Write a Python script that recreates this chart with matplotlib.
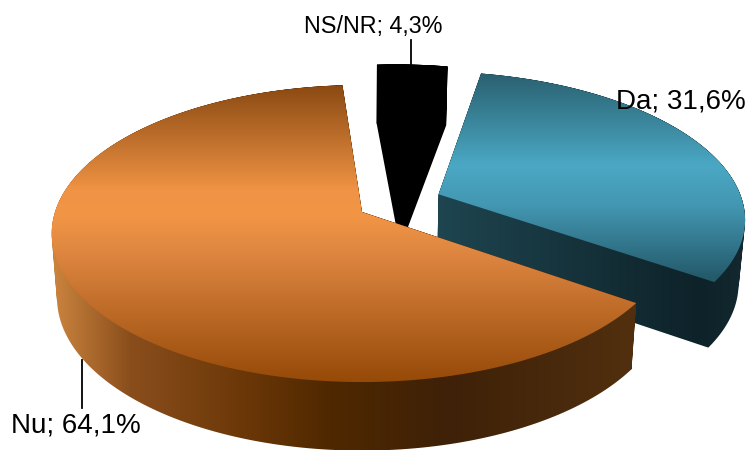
import numpy as np
import matplotlib
matplotlib.use("Agg")
import matplotlib.pyplot as plt
from matplotlib.colors import to_rgb
from matplotlib.patches import PathPatch
from matplotlib.path import Path

plt.rcParams['font.family'] = ['Liberation Sans', 'DejaVu Sans']

names = ["Da", "Nu", "NS/NR"]
values = [31.6, 64.1, 4.3]

# slice offsets from the pie centre, in disk units
offsets = [(0.254, 0.124), (0.0, 0.0), (0.13, 0.19)]
start_angle = 78.7

# projection of the disk on the page
cx, cy = 362, 212
rx, ry = 307, 145.4
persp = 0.145

top_stops = [
    [(73, "#2a6070"), (165, "#4aa8c4"), (205, "#4397b2"), (278, "#245a6a")],
    [(85, "#8a4a12"), (190, "#f09344"), (215, "#f29545"), (255, "#dd8540"), (382, "#964a08")],
    [(0, "#000000"), (450, "#000000")],
]
side_stops = [
    [(438, "#1e4550"), (700, "#0e2229"), (745, "#13282f")],
    [(52, "#cc853f"), (130, "#8a4e1c"), (240, "#6d3808"), (330, "#4f2800"),
     (450, "#3e2108"), (640, "#52300f")],
    [(0, "#000000"), (750, "#000000")],
]


def project(u, v):
    s = 1 / (1 + persp * v)
    return cx + rx * u * s, cy - ry * v * s


def drop(x, y):
    # bottom of the wall, a bit narrower and further down toward the viewer
    return cx + (x - cx) * 0.983, y + 59 + (y - 64) * 0.03


def ramp(stops):
    pos = [p for p, c in stops]
    cols = np.array([to_rgb(c) for p, c in stops])
    grid = np.linspace(0, 750, 901)
    return np.stack([np.interp(grid, pos, cols[:, i]) for i in range(3)], axis=-1)


def clip_fill(ax, path, stops, vertical):
    band = ramp(stops)
    if vertical:
        img = ax.imshow(band[:, None, :], extent=(0, 750, 750, 0), aspect='auto', interpolation='bilinear')
    else:
        img = ax.imshow(band[None, :, :], extent=(0, 750, 450, 0), aspect='auto', interpolation='bilinear')
    img.set_clip_path(PathPatch(path, transform=ax.transData))


def ring(pts):
    # closed outline, always wound the same way
    area = np.sum(pts[:, 0] * np.roll(pts[:, 1], -1) - np.roll(pts[:, 0], -1) * pts[:, 1])
    if area < 0:
        pts = pts[::-1]
    return Path(np.vstack([pts, pts[0]]), closed=True)


def quads(x0, y0, x1, y1):
    # strip of quads between two outlines
    parts = []
    for j in range(len(x0) - 1):
        q = np.array([[x0[j], y0[j]], [x0[j + 1], y0[j + 1]], [x1[j + 1], y1[j + 1]], [x1[j], y1[j]]])
        parts.append(ring(q))
    return parts


fig = plt.figure(figsize=(7.5, 4.5), dpi=100)
ax = fig.add_axes([0, 0, 1, 1])

# angles run clockwise from the start
sweeps = np.array(values) / sum(values) * 360
ends = start_angle - np.cumsum(sweeps)
starts = ends + sweeps

# far slices first, the big one covers them
for i in [2, 0, 1]:
    a = np.radians(np.linspace(ends[i], starts[i], 200))
    du, dv = offsets[i]
    px, py = project(du + np.cos(a), dv + np.sin(a))
    ox, oy = project(du, dv)
    bx, by = drop(px, py)
    box, boy = drop(ox, oy)

    rim_x = np.r_[ox, px, ox]
    rim_y = np.r_[oy, py, oy]
    face = ring(np.column_stack([rim_x[:-1], rim_y[:-1]]))

    # walls, with the face outline added so no seam shows under the top
    walls = quads(rim_x, rim_y, np.r_[box, bx, box], np.r_[boy, by, boy])
    clip_fill(ax, Path.make_compound_path(face, *walls), side_stops[i], False)
    clip_fill(ax, face, top_stops[i], True)

ax.plot([411, 411], [40, 64], color="black", lw=1.3)
ax.plot([82, 82], [360, 408], color="black", lw=1.3)


def label(i):
    return f"{names[i]}; {values[i]}%".replace(".", ",")


ax.text(616, 102, label(0), fontsize=20, color="black", ha="left", va="center")
ax.text(11, 425, label(1), fontsize=20, color="black", ha="left", va="center")
ax.text(304, 26, label(2), fontsize=16.8, color="black", ha="left", va="center")

ax.set_xlim(0, 750)
ax.set_ylim(450, 0)
ax.axis("off")

fig.savefig("out.png", dpi=100)
